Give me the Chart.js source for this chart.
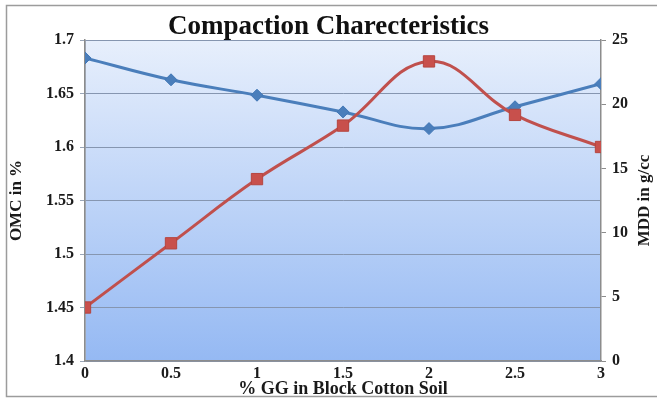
<!DOCTYPE html>
<html>
<head>
<meta charset="utf-8">
<script src="https://cdn.jsdelivr.net/npm/chart.js@4.4.1/dist/chart.umd.min.js"></script>
<style>
  html, body { margin: 0; padding: 0; background: #fff; }
  #wrap { position: relative; width: 657px; height: 401px; }
</style>
</head>
<body>
<div id="wrap"><canvas id="chart" width="657" height="401"></canvas></div>
<script>
// % GG added to black cotton soil
const ggPercent = [0, 0.5, 1, 1.5, 2, 2.5, 3];
// series plotted against the left axis
const omcValues = [1.45, 1.51, 1.57, 1.62, 1.68, 1.63, 1.60];
// series plotted against the right axis
const mddValues = [23.6, 21.9, 20.7, 19.4, 18.1, 19.8, 21.6];

// tick labels
const xTicks = [0, 0.5, 1, 1.5, 2, 2.5, 3];
const leftTicks = [1.4, 1.45, 1.5, 1.55, 1.6, 1.65, 1.7];
const rightTicks = [0, 5, 10, 15, 20, 25];

const SERIF = "'Liberation Serif', 'Times New Roman', serif";
const tickFont = { family: SERIF, size: 16, weight: 'bold' };
const axisTitleFont = { family: SERIF, size: 17, weight: 'bold' };
const textColor = '#1a1a1a';

const useTicks = list => scale => { scale.ticks = list.map(v => ({ value: v })); };

// frame, gradient plot area and the right-hand axis title
const chartDecor = {
  id: 'chartDecor',
  beforeDraw(chart) {
    const { ctx, chartArea: a } = chart;
    ctx.save();
    ctx.fillStyle = '#ffffff';
    ctx.fillRect(0, 0, chart.width, chart.height);
    ctx.strokeStyle = '#9c9c9c';
    ctx.lineWidth = 1.5;
    ctx.strokeRect(6.5, 5.5, 660, 391);
    const g = ctx.createLinearGradient(0, a.top, 0, a.bottom);
    g.addColorStop(0, '#e7effc');
    g.addColorStop(1, '#95b9f3');
    ctx.fillStyle = g;
    ctx.fillRect(a.left, a.top, a.right - a.left, a.bottom - a.top);
    ctx.strokeStyle = '#b3c1d6';
    ctx.lineWidth = 1;
    ctx.strokeRect(a.left + 0.5, a.top + 0.5, a.right - a.left - 1, a.bottom - a.top - 1);
    ctx.restore();
  },
  afterDraw(chart) {
    const { ctx, chartArea: a } = chart;
    ctx.save();
    ctx.translate(645, (a.top + a.bottom) / 2);
    ctx.rotate(-Math.PI / 2);
    ctx.font = `bold ${axisTitleFont.size}px ${SERIF}`;
    ctx.fillStyle = textColor;
    ctx.textAlign = 'center';
    ctx.textBaseline = 'middle';
    ctx.fillText('MDD in g/cc', 0, 0);
    ctx.restore();
  }
};

new Chart(document.getElementById('chart'), {
  type: 'line',
  data: {
    datasets: [
      {
        label: 'OMC',
        data: ggPercent.map((x, i) => ({ x, y: omcValues[i] })),
        yAxisID: 'y',
        borderColor: '#c0504d',
        backgroundColor: '#c8504c',
        borderWidth: 3,
        pointStyle: 'rect',
        pointRadius: 8,
        pointBorderColor: '#b5453f',
        pointBorderWidth: 1,
        tension: 0.4,
        fill: false
      },
      {
        label: 'MDD',
        data: ggPercent.map((x, i) => ({ x, y: mddValues[i] })),
        yAxisID: 'y1',
        borderColor: '#4a7ebb',
        backgroundColor: '#4a7ebb',
        borderWidth: 3,
        pointStyle: 'rectRot',
        pointRadius: 6,
        pointBorderColor: '#4177b6',
        pointBorderWidth: 1,
        tension: 0.4,
        fill: false
      }
    ]
  },
  options: {
    responsive: false,
    animation: false,
    layout: { padding: { left: 6, right: 6, top: 0, bottom: 1 } },
    plugins: {
      legend: { display: false },
      tooltip: { enabled: false },
      title: {
        display: true,
        text: 'Compaction Charecteristics',
        color: '#111',
        font: { family: SERIF, size: 27, weight: 'bold', lineHeight: 0.926 },
        padding: { top: 15, bottom: 0 }
      }
    },
    scales: {
      x: {
        type: 'linear',
        min: 0,
        max: 3,
        afterBuildTicks: useTicks(xTicks),
        afterFit: s => { s.height = 39; },
        grid: { display: false, drawTicks: false },
        border: { display: true, color: '#8c8c8c', width: 1.5 },
        ticks: {
          font: tickFont, color: textColor, padding: 3,
          maxRotation: 0, autoSkip: false,
          callback: v => String(v)
        },
        title: {
          display: true,
          text: '% GG in Block Cotton Soil',
          font: { family: SERIF, size: 18, weight: 'bold' },
          color: textColor,
          padding: { top: 0, bottom: 0 }
        }
      },
      y: {
        position: 'left',
        min: 1.4,
        max: 1.7,
        afterBuildTicks: useTicks(leftTicks),
        afterFit: s => { s.width = 79; },
        grid: { color: '#8696b0', lineWidth: 1, tickLength: 5, tickColor: '#9aa6b8' },
        border: { display: true, color: '#8c8c8c', width: 1.5 },
        ticks: { font: tickFont, color: textColor, padding: 6, callback: v => String(v) },
        title: {
          display: true,
          text: 'OMC in %',
          font: axisTitleFont,
          color: textColor,
          padding: { top: 0, bottom: 0 }
        }
      },
      y1: {
        position: 'right',
        min: 0,
        max: 25,
        afterBuildTicks: useTicks(rightTicks),
        afterFit: s => { s.width = 50; },
        grid: { drawOnChartArea: false, tickLength: 5, tickColor: '#8c8c8c' },
        border: { display: true, color: '#8c8c8c', width: 1.5 },
        ticks: { font: tickFont, color: textColor, padding: 6, callback: v => String(v) }
      }
    }
  },
  plugins: [chartDecor]
});
</script>
</body>
</html>
